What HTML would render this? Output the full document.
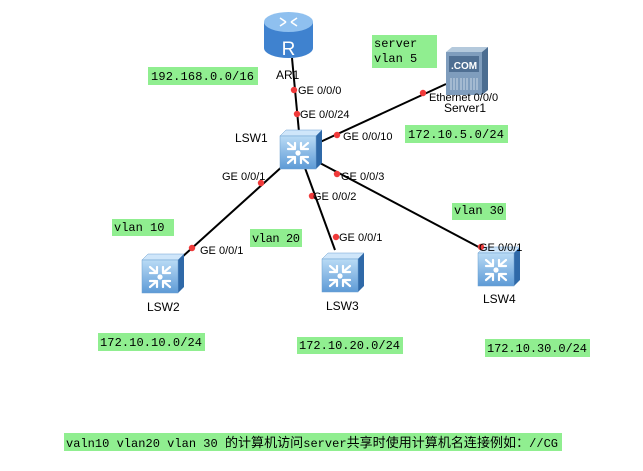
<!DOCTYPE html>
<html><head><meta charset="utf-8"><style>
html,body{margin:0;padding:0;background:#fff;width:643px;height:471px;overflow:hidden}
svg{display:block}
.l{font-family:"Liberation Sans",Arial,sans-serif;font-size:11px;fill:#000}
.n{font-family:"Liberation Sans",Arial,sans-serif;font-size:12px;fill:#000}
.m{font-family:"Liberation Mono","DejaVu Sans Mono",monospace;font-size:12px;fill:#000}
</style></head><body>
<svg width="643" height="471" viewBox="0 0 643 471" xmlns="http://www.w3.org/2000/svg">
<defs>
<linearGradient id="gf" x1="0" y1="0" x2="0" y2="1"><stop offset="0" stop-color="#b9dbf5"/><stop offset="1" stop-color="#5d9ad6"/></linearGradient>
<g id="sw">
<polygon points="0,6 6,0 42,0 36,6" fill="#cfe6fa" stroke="#6b9fd0" stroke-width="0.5"/>
<polygon points="36,6 42,0 42,33 36,39" fill="#2f69a8"/>
<rect x="0" y="6" width="36" height="33" fill="url(#gf)" stroke="#6b9fd0" stroke-width="0.5"/>
<g stroke="#fff" stroke-width="2.2" fill="none" stroke-linecap="round">
<path d="M8,13 L15,19 M8,19 L14,19 M15,13 L15,18"/>
<path d="M28,13 L21,19 M28,19 L22,19 M21,13 L21,18"/>
<path d="M8,33 L15,27 M8,27 L14,27 M15,33 L15,28"/>
<path d="M28,33 L21,27 M28,27 L22,27 M21,33 L21,28"/>
</g>
<circle cx="18" cy="23" r="2.6" fill="#fff"/>
</g>
</defs>
<rect width="643" height="471" fill="#fff"/>
<g stroke="#000" stroke-width="2" fill="none">
<line x1="292" y1="58" x2="299" y2="132"/>
<line x1="318" y1="143" x2="446" y2="84"/>
<line x1="285" y1="164" x2="181" y2="258"/>
<line x1="305" y1="168" x2="335" y2="250"/>
<line x1="318" y1="162" x2="488" y2="252"/>
</g>
<g>
<path d="M264,22 L264,48 A24.5,10 0 0 0 313,48 L313,22 Z" fill="#3f82cf"/>
<ellipse cx="288.5" cy="22" rx="24.5" ry="10" fill="#8fc0ef"/>
<text x="288.5" y="55" text-anchor="middle" font-family="Liberation Sans,Arial,sans-serif" font-size="19" fill="#fff">R</text>
<g stroke="#fff" stroke-width="1.6"><path d="M280,18 L286,22 M297,18 L291,22 M280,26 L286,22 M297,26 L291,22"/></g>
</g>
<g>
<polygon points="446,52 452,47 488,47 482,52" fill="#b4c9dc"/>
<polygon points="482,52 488,47 488,90 482,95" fill="#4b6d91"/>
<rect x="446" y="52" width="36" height="43" fill="#7f9dbd"/>
<rect x="449" y="56" width="30" height="16" fill="#4f6f93"/>
<text x="464" y="69" text-anchor="middle" font-family="Liberation Sans,Arial,sans-serif" font-size="10" font-weight="bold" fill="#fff">.COM</text>
<g stroke="#c9d7e5" stroke-width="1"><path d="M451,78 v12 M454,78 v12 M457,78 v12 M461,78 v12 M464,78 v12 M467,78 v12 M471,78 v12 M474,78 v12 M477,78 v12"/></g>
</g>
<use href="#sw" x="280" y="130"/>
<use href="#sw" x="142" y="254"/>
<use href="#sw" x="322" y="253"/>
<use href="#sw" x="478" y="247"/>
<g fill="#f03a3a">
<circle cx="294" cy="90" r="3.2"/><circle cx="297" cy="114" r="3.2"/>
<circle cx="337" cy="135" r="3.2"/><circle cx="423" cy="93" r="3.2"/>
<circle cx="261" cy="183" r="3.2"/><circle cx="192" cy="248" r="3.2"/>
<circle cx="312" cy="196" r="3.2"/><circle cx="336" cy="237" r="3.2"/>
<circle cx="337" cy="174" r="3.2"/><circle cx="481" cy="247" r="3.2"/>
</g>
<text class="l" x="298" y="94">GE 0/0/0</text>
<text class="l" x="300" y="118">GE 0/0/24</text>
<text class="l" x="343" y="140">GE 0/0/10</text>
<text class="l" x="429" y="101">Ethernet 0/0/0</text>
<text class="l" x="222" y="180">GE 0/0/1</text>
<text class="l" x="200" y="254">GE 0/0/1</text>
<text class="l" x="313" y="200">GE 0/0/2</text>
<text class="l" x="339" y="241">GE 0/0/1</text>
<text class="l" x="341" y="180">GE 0/0/3</text>
<text class="l" x="479" y="251">GE 0/0/1</text>
<text class="n" x="276" y="79">AR1</text>
<text class="n" x="444" y="112">Server1</text>
<text class="n" x="235" y="142">LSW1</text>
<text class="n" x="147" y="311">LSW2</text>
<text class="n" x="326" y="310">LSW3</text>
<text class="n" x="483" y="303">LSW4</text>
<g fill="#90ee90">
<rect x="148" y="67" width="110" height="18"/>
<rect x="372" y="35" width="65" height="33"/>
<rect x="405" y="125" width="103" height="18"/>
<rect x="112" y="219" width="62" height="17"/>
<rect x="250" y="229" width="52" height="18"/>
<rect x="452" y="203" width="54" height="17"/>
<rect x="98" y="333" width="107" height="18"/>
<rect x="297" y="337" width="106" height="17"/>
<rect x="485" y="339" width="105" height="18"/>
<rect x="64" y="433" width="498" height="18"/>
</g>
<text class="m" x="151" y="80" textLength="103">192.168.0.0/16</text>
<text class="m" x="374" y="47">server</text>
<text class="m" x="374" y="62">vlan 5</text>
<text class="m" x="408" y="138" textLength="96">172.10.5.0/24</text>
<text class="m" x="114" y="231">vlan 10</text>
<text class="m" x="252" y="242" textLength="48">vlan 20</text>
<text class="m" x="454" y="214" textLength="50">vlan 30</text>
<text class="m" x="100" y="346" textLength="102">172.10.10.0/24</text>
<text class="m" x="299" y="349" textLength="101">172.10.20.0/24</text>
<text class="m" x="487" y="352" textLength="100">172.10.30.0/24</text>
<text x="66" y="447" font-family="Liberation Mono,'Noto Sans CJK SC',monospace" font-size="12" fill="#000" textLength="492">valn10  vlan20 vlan 30 <tspan font-family="'Noto Sans CJK SC',sans-serif" font-size="13">的计算机访问</tspan>server<tspan font-family="'Noto Sans CJK SC',sans-serif" font-size="13">共享时使用计算机名连接例如：</tspan>//CG</text>
</svg>
</body></html>
